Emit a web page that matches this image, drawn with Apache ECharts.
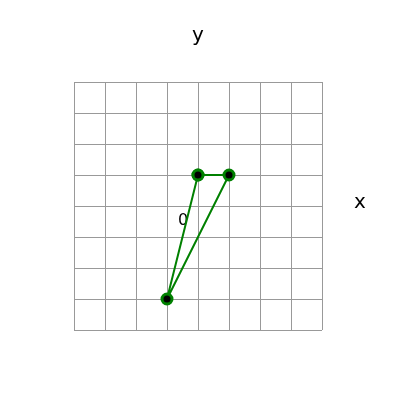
<!DOCTYPE html>
<html><head><meta charset="utf-8">
<script src="https://cdn.jsdelivr.net/npm/echarts@6/dist/echarts.min.js"></script>
<style>body{margin:0}#main{width:400px;height:400px}</style>
</head><body><div id="main"></div>
<script>
var pointsX = [0, 1, -1, 0];
var pointsY = [1, 1, -3, 1];
var axisReach = 5.2;

var chart = echarts.init(document.getElementById('main'));
var tri = pointsX.map(function (x, i) { return [x, pointsY[i]]; });

chart.setOption({
    animation: false,
    grid: { left: 74, top: 82, width: 248, height: 248 },
    xAxis: {
        type: 'value', min: -4, max: 4, interval: 1,
        axisLine: { show: false }, axisTick: { show: false }, axisLabel: { show: false },
        splitLine: { lineStyle: { color: '#999', width: 1 } }
    },
    yAxis: {
        type: 'value', min: -4, max: 4, interval: 1,
        axisLine: { show: false }, axisTick: { show: false }, axisLabel: { show: false },
        splitLine: { lineStyle: { color: '#999', width: 1 } }
    },
    series: [
        {
            type: 'line', data: tri, clip: false, z: 3,
            lineStyle: { color: 'green', width: 2 },
            symbol: 'circle', symbolSize: 10,
            itemStyle: { color: '#000', borderColor: 'green', borderWidth: 3 },
            markLine: {
                silent: true, symbol: ['arrow', 'arrow'], symbolSize: 16, z: 2,
                lineStyle: { color: '#000', width: 4, type: 'solid' }, label: { show: false },
                data: [
                    [{ coord: [-axisReach, 0] }, { coord: [axisReach, 0] }],
                    [{ coord: [0, -axisReach] }, { coord: [0, axisReach] }]
                ]
            }
        }
    ],
    graphic: [
        { type: 'text', left: 354, top: 193, style: { text: 'x', fontSize: 20, fill: '#000', fontFamily: 'DejaVu Sans' } },
        { type: 'text', left: 192, top: 26, style: { text: 'y', fontSize: 20, fill: '#000', fontFamily: 'DejaVu Sans' } },
        { type: 'text', left: 178, top: 213, style: { text: '0', fontSize: 16, fill: '#000', fontFamily: 'DejaVu Sans' } }
    ]
});
</script></body></html>
